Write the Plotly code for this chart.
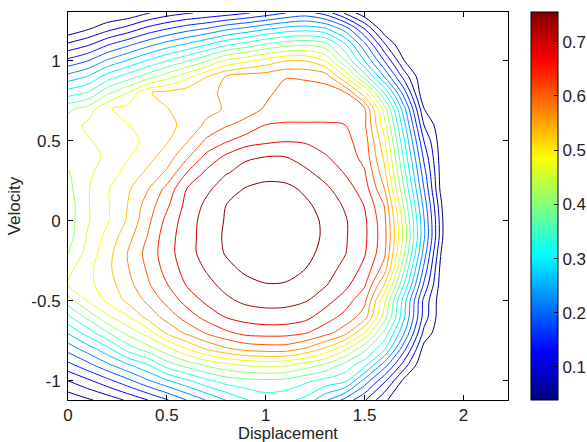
import plotly.graph_objects as go

# Grid coordinates of the density estimate
displacement = [0.0, 0.1, 0.2, 0.3, 0.4, 0.5, 0.6, 0.7, 0.8, 0.9, 1.0, 1.1,
                1.2, 1.3, 1.4, 1.5, 1.6, 1.7, 1.8, 1.9, 2.0, 2.1, 2.2]
velocity = [-1.12, -1.0, -0.9, -0.8, -0.7, -0.6, -0.5, -0.4, -0.3, -0.2, -0.1, 0.0,
            0.1, 0.2, 0.3, 0.4, 0.5, 0.6, 0.7, 0.8, 0.9, 1.0, 1.1, 1.2, 1.3]

# Density values, one list per velocity row (left to right in displacement)
row_m112 = [0.049, 0.068, 0.087, 0.112, 0.140, 0.172, 0.210, 0.245, 0.279, 0.310, 0.329, 0.322, 0.303, 0.250, 0.199, 0.145, 0.080, 0.039, 0.039, 0.039, 0.039, 0.039, 0.039]
row_m100 = [0.107, 0.134, 0.165, 0.199, 0.237, 0.273, 0.305, 0.337, 0.361, 0.370, 0.373, 0.370, 0.353, 0.336, 0.322, 0.230, 0.148, 0.063, 0.039, 0.039, 0.039, 0.039, 0.039]
row_m090 = [0.165, 0.199, 0.237, 0.273, 0.308, 0.363, 0.394, 0.421, 0.440, 0.453, 0.459, 0.455, 0.433, 0.409, 0.368, 0.324, 0.227, 0.124, 0.039, 0.039, 0.039, 0.039, 0.039]
row_m080 = [0.223, 0.261, 0.302, 0.360, 0.397, 0.438, 0.482, 0.520, 0.545, 0.562, 0.568, 0.568, 0.547, 0.511, 0.457, 0.390, 0.317, 0.186, 0.059, 0.039, 0.039, 0.039, 0.039]
row_m070 = [0.281, 0.327, 0.377, 0.424, 0.462, 0.522, 0.557, 0.588, 0.612, 0.629, 0.632, 0.631, 0.622, 0.598, 0.564, 0.479, 0.371, 0.245, 0.097, 0.039, 0.039, 0.039, 0.039]
row_m060 = [0.339, 0.390, 0.441, 0.479, 0.527, 0.564, 0.600, 0.631, 0.655, 0.666, 0.673, 0.672, 0.663, 0.636, 0.608, 0.568, 0.431, 0.283, 0.126, 0.039, 0.039, 0.039, 0.039]
row_m050 = [0.397, 0.450, 0.489, 0.523, 0.556, 0.595, 0.631, 0.660, 0.680, 0.694, 0.698, 0.697, 0.689, 0.666, 0.636, 0.593, 0.455, 0.292, 0.131, 0.039, 0.039, 0.039, 0.039]
row_m040 = [0.452, 0.472, 0.501, 0.537, 0.578, 0.617, 0.655, 0.677, 0.697, 0.711, 0.719, 0.718, 0.707, 0.690, 0.663, 0.623, 0.516, 0.342, 0.169, 0.039, 0.039, 0.039, 0.039]
row_m030 = [0.438, 0.472, 0.508, 0.547, 0.588, 0.632, 0.666, 0.690, 0.712, 0.728, 0.738, 0.735, 0.721, 0.701, 0.678, 0.643, 0.568, 0.383, 0.201, 0.039, 0.039, 0.039, 0.039]
row_m020 = [0.411, 0.462, 0.503, 0.551, 0.595, 0.639, 0.673, 0.701, 0.724, 0.738, 0.748, 0.745, 0.731, 0.711, 0.689, 0.656, 0.593, 0.418, 0.230, 0.048, 0.039, 0.039, 0.039]
row_m010 = [0.400, 0.452, 0.493, 0.537, 0.585, 0.639, 0.670, 0.704, 0.726, 0.741, 0.755, 0.748, 0.735, 0.716, 0.691, 0.660, 0.598, 0.436, 0.250, 0.065, 0.039, 0.039, 0.039]
row_p000 = [0.397, 0.445, 0.479, 0.520, 0.574, 0.629, 0.670, 0.701, 0.724, 0.741, 0.754, 0.748, 0.735, 0.715, 0.691, 0.659, 0.595, 0.429, 0.247, 0.065, 0.039, 0.039, 0.039]
row_p010 = [0.397, 0.445, 0.479, 0.516, 0.564, 0.612, 0.663, 0.694, 0.721, 0.738, 0.752, 0.748, 0.728, 0.707, 0.683, 0.651, 0.583, 0.407, 0.232, 0.056, 0.039, 0.039, 0.039]
row_p020 = [0.404, 0.445, 0.479, 0.510, 0.547, 0.595, 0.653, 0.680, 0.704, 0.724, 0.735, 0.731, 0.714, 0.694, 0.670, 0.636, 0.551, 0.380, 0.210, 0.039, 0.039, 0.039, 0.039]
row_p030 = [0.411, 0.441, 0.465, 0.493, 0.523, 0.557, 0.619, 0.660, 0.685, 0.697, 0.704, 0.704, 0.694, 0.675, 0.651, 0.622, 0.527, 0.358, 0.190, 0.039, 0.039, 0.039, 0.039]
row_p040 = [0.424, 0.435, 0.455, 0.479, 0.503, 0.533, 0.578, 0.629, 0.660, 0.683, 0.687, 0.687, 0.673, 0.656, 0.638, 0.608, 0.508, 0.337, 0.167, 0.039, 0.039, 0.039, 0.039]
row_p050 = [0.441, 0.445, 0.458, 0.472, 0.489, 0.513, 0.547, 0.591, 0.615, 0.636, 0.646, 0.651, 0.649, 0.639, 0.629, 0.602, 0.489, 0.315, 0.141, 0.039, 0.039, 0.039, 0.039]
row_p060 = [0.431, 0.455, 0.469, 0.481, 0.496, 0.506, 0.527, 0.557, 0.581, 0.595, 0.619, 0.622, 0.622, 0.622, 0.619, 0.591, 0.462, 0.288, 0.107, 0.039, 0.039, 0.039, 0.039]
row_p070 = [0.407, 0.428, 0.479, 0.493, 0.503, 0.515, 0.530, 0.540, 0.554, 0.571, 0.588, 0.602, 0.602, 0.602, 0.598, 0.588, 0.431, 0.254, 0.074, 0.039, 0.039, 0.039, 0.039]
row_p080 = [0.329, 0.349, 0.407, 0.448, 0.513, 0.527, 0.537, 0.537, 0.561, 0.568, 0.578, 0.595, 0.598, 0.598, 0.591, 0.494, 0.344, 0.192, 0.039, 0.039, 0.039, 0.039, 0.039]
row_p090 = [0.257, 0.281, 0.329, 0.363, 0.397, 0.435, 0.472, 0.516, 0.554, 0.568, 0.571, 0.583, 0.581, 0.574, 0.486, 0.366, 0.244, 0.128, 0.039, 0.039, 0.039, 0.039, 0.039]
row_p100 = [0.186, 0.210, 0.250, 0.281, 0.315, 0.346, 0.377, 0.411, 0.455, 0.475, 0.496, 0.516, 0.516, 0.482, 0.383, 0.278, 0.175, 0.074, 0.039, 0.039, 0.039, 0.039, 0.039]
row_p110 = [0.116, 0.138, 0.174, 0.203, 0.233, 0.261, 0.285, 0.312, 0.342, 0.363, 0.387, 0.404, 0.411, 0.397, 0.319, 0.220, 0.114, 0.039, 0.039, 0.039, 0.039, 0.039, 0.039]
row_p120 = [0.046, 0.070, 0.097, 0.121, 0.152, 0.175, 0.196, 0.213, 0.237, 0.254, 0.274, 0.291, 0.298, 0.285, 0.230, 0.141, 0.049, 0.039, 0.039, 0.039, 0.039, 0.039, 0.039]
row_p130 = [0.039, 0.039, 0.039, 0.046, 0.070, 0.090, 0.104, 0.114, 0.124, 0.138, 0.155, 0.175, 0.189, 0.162, 0.104, 0.049, 0.039, 0.039, 0.039, 0.039, 0.039, 0.039, 0.039]

x_ticks = [0, 0.5, 1, 1.5, 2]
x_tick_text = ["0", "0.5", "1", "1.5", "2"]
y_ticks = [-1, -0.5, 0, 0.5, 1]
y_tick_text = ["-1", "-0.5", "0", "0.5", "1"]
cbar_ticks = [0.1, 0.2, 0.3, 0.4, 0.5, 0.6, 0.7]
cbar_tick_text = ["0.1", "0.2", "0.3", "0.4", "0.5", "0.6", "0.7"]

density = [row_m112, row_m100, row_m090, row_m080, row_m070, row_m060, row_m050,
           row_m040, row_m030, row_m020, row_m010, row_p000, row_p010, row_p020,
           row_p030, row_p040, row_p050, row_p060, row_p070, row_p080, row_p090,
           row_p100, row_p110, row_p120, row_p130]

z_low, z_high = 0.039, 0.755

jet = [
    [0.0, "rgb(0,0,128)"],
    [0.125, "rgb(0,0,255)"],
    [0.375, "rgb(0,255,255)"],
    [0.625, "rgb(255,255,0)"],
    [0.875, "rgb(255,0,0)"],
    [1.0, "rgb(128,0,0)"],
]

font_family = "Liberation Sans, Arial, sans-serif"
text_color = "#222"
font_size = 17

fig = go.Figure()

fig.add_trace(go.Contour(
    x=displacement,
    y=velocity,
    z=density,
    colorscale=jet,
    zmin=z_low,
    zmax=z_high,
    autocontour=False,
    contours=dict(start=0.0731, end=0.7215, size=0.0341, coloring="lines"),
    line=dict(width=1, smoothing=0.85),
    showscale=False,
    hoverinfo="skip",
))

# Continuous colour bar for the density scale
fig.add_trace(go.Scatter(
    x=[None], y=[None], mode="markers",
    marker=dict(
        color=[z_low], colorscale=jet, cmin=z_low, cmax=z_high, showscale=True,
        colorbar=dict(
            x=1.052, xanchor="left", xpad=0, ypad=0,
            y=0.5, yanchor="middle", len=1.0, lenmode="fraction",
            thickness=27, outlinewidth=1, outlinecolor="black",
            tickvals=cbar_ticks, ticktext=cbar_tick_text,
            ticks="inside", ticklen=4, tickcolor="black",
            tickfont=dict(family=font_family, size=font_size, color=text_color),
        ),
    ),
    showlegend=False,
    hoverinfo="skip",
))

axis_common = dict(
    showline=True, linecolor="black", linewidth=1, mirror="allticks",
    ticks="inside", ticklen=5, tickcolor="black",
    showgrid=False, zeroline=False,
    tickfont=dict(family=font_family, size=font_size, color=text_color),
)

fig.update_xaxes(
    range=[0, 2.225], tickvals=x_ticks, ticktext=x_tick_text,
    ticklabelstandoff=0,
    **axis_common,
)
fig.update_yaxes(
    range=[-1.12, 1.306], tickvals=y_ticks, ticktext=y_tick_text,
    ticklabelstandoff=3,
    title=dict(text="Velocity", font=dict(family=font_family, size=font_size, color=text_color), standoff=6),
    **axis_common,
)

# Horizontal axis title placed just under the tick labels
fig.add_annotation(
    text="Displacement", xref="paper", yref="paper",
    x=0.5, y=-0.085, xanchor="center", yanchor="middle",
    showarrow=False, borderpad=0,
    font=dict(family=font_family, size=16.5, color=text_color),
)

fig.update_layout(
    width=587, height=442,
    margin=dict(l=68, r=79, t=12, b=42, autoexpand=False),
    paper_bgcolor="white", plot_bgcolor="white",
    showlegend=False,
)

fig.write_html("out.html")
